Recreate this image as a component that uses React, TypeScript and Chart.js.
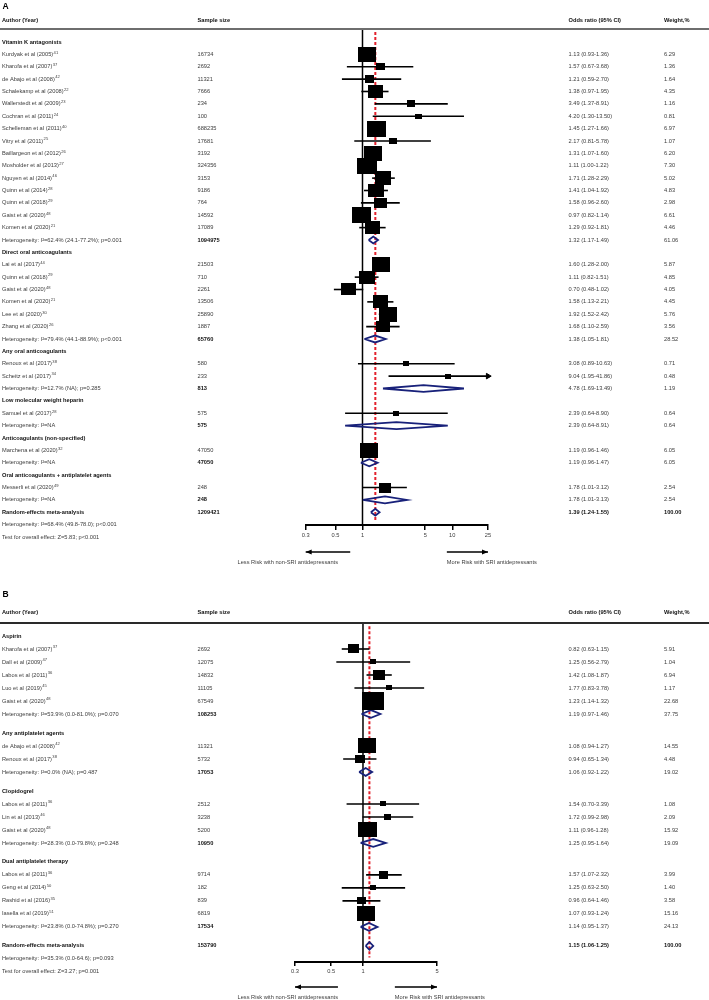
import React, { useEffect, useRef } from "react";
import { Chart, registerables } from "chart.js";
Chart.register(...registerables);

const FONT = '"Liberation Sans", Arial, sans-serif';
const FS = 5.7;
const PAGE_W = 709;

// ---------------- Panel A: anticoagulants ----------------
const A_LABELS = [
  "Vitamin K antagonists",
  "Kurdyak et al (2005)",
  "Kharofa et al (2007)",
  "de Abajo et al (2008)",
  "Schalekamp et al (2008)",
  "Wallerstedt et al (2009)",
  "Cochran et al (2011)",
  "Schelleman et al (2011)",
  "Vitry et al (2011)",
  "Baillargeon et al (2012)",
  "Mosholder et al (2013)",
  "Nguyen et al (2014)",
  "Quinn et al (2014)",
  "Quinn et al (2018)",
  "Gaist et al (2020)",
  "Komen et al (2020)",
  "Heterogeneity: I²=62.4% (24.1-77.2%); p=0.001",
  "Direct oral anticoagulants",
  "Lai et al (2017)",
  "Quinn et al (2018)",
  "Gaist et al (2020)",
  "Komen et al (2020)",
  "Lee et al (2020)",
  "Zhang et al (2020)",
  "Heterogeneity: I²=79.4% (44.1-88.9%); p<0.001",
  "Any oral anticoagulants",
  "Renoux et al (2017)",
  "Scheitz et al (2017)",
  "Heterogeneity: I²=12.7% (NA); p=0.285",
  "Low molecular weight heparin",
  "Samuel et al (2017)",
  "Heterogeneity: I²=NA",
  "Anticoagulants (non-specified)",
  "Marchena et al (2020)",
  "Heterogeneity: I²=NA",
  "Oral anticoagulants + antiplatelet agents",
  "Messerli et al (2020)",
  "Heterogeneity: I²=NA",
  "Random-effects meta-analysis",
  "Heterogeneity: I²=68.4% (49.8-78.0); p<0.001",
  "Test for overall effect: Z=5.83; p<0.001",
];
const A_REFS = ["", "41", "37", "42", "22", "23", "24", "40", "25", "26", "27", "46", "28", "29", "48", "21", "",
  "", "44", "29", "48", "21", "30", "26", "", "", "38", "34", "", "", "28", "", "", "32", "", "", "49", "", "", "", ""];
const A_KIND = ["section", "study", "study", "study", "study", "study", "study", "study", "study", "study", "study",
  "study", "study", "study", "study", "study", "pooled", "section", "study", "study", "study", "study", "study", "study",
  "pooled", "section", "study", "study", "pooled", "section", "study", "pooled", "section", "study", "pooled",
  "section", "study", "pooled", "overall", "note", "note"];
const A_N = [null, 16734, 2692, 11321, 7666, 234, 100, 688235, 17681, 3192, 324356, 3153, 9186, 764, 14592, 17089, 1094975,
  null, 21503, 710, 2261, 13506, 25890, 1887, 65760, null, 580, 233, 813, null, 575, 575, null, 47050, 47050, null, 248, 248,
  1209421, null, null];
const A_OR = [null, 1.13, 1.57, 1.21, 1.38, 3.49, 4.20, 1.45, 2.17, 1.31, 1.11, 1.71, 1.41, 1.58, 0.97, 1.29, 1.32,
  null, 1.60, 1.11, 0.70, 1.58, 1.92, 1.68, 1.38, null, 3.08, 9.04, 4.78, null, 2.39, 2.39, null, 1.19, 1.19, null, 1.78, 1.78,
  1.39, null, null];
const A_LO = [null, 0.93, 0.67, 0.59, 0.97, 1.37, 1.30, 1.27, 0.81, 1.07, 1.00, 1.28, 1.04, 0.96, 0.82, 0.92, 1.17,
  null, 1.28, 0.82, 0.48, 1.13, 1.52, 1.10, 1.05, null, 0.89, 1.95, 1.69, null, 0.64, 0.64, null, 0.96, 0.96, null, 1.01, 1.01,
  1.24, null, null];
const A_HI = [null, 1.36, 3.68, 2.70, 1.95, 8.91, 13.50, 1.66, 5.78, 1.60, 1.22, 2.29, 1.92, 2.60, 1.14, 1.81, 1.49,
  null, 2.00, 1.51, 1.02, 2.21, 2.42, 2.59, 1.81, null, 10.63, 41.86, 13.49, null, 8.90, 8.91, null, 1.46, 1.47, null, 3.12, 3.13,
  1.55, null, null];
const A_W = [null, 6.29, 1.36, 1.64, 4.35, 1.16, 0.81, 6.97, 1.07, 6.20, 7.30, 5.02, 4.83, 2.98, 6.61, 4.46, 61.06,
  null, 5.87, 4.85, 4.05, 4.45, 5.76, 3.56, 28.52, null, 0.71, 0.48, 1.19, null, 0.64, 0.64, null, 6.05, 6.05, null, 2.54, 2.54,
  100.0, null, null];
const A_TICKS = [0.3, 0.5, 1, 5, 10, 25];
const A_TICK_LABELS = ["0.3", "0.5", "1", "5", "10", "25"];

// ---------------- Panel B: antiplatelet agents ----------------
const B_LABELS = [
  "Aspirin",
  "Kharofa et al (2007)",
  "Dall et al (2009)",
  "Labos et al (2011)",
  "Luo et al (2019)",
  "Gaist et al (2020)",
  "Heterogeneity: I²=53.9% (0.0-81.0%); p=0.070",
  "Any antiplatelet agents",
  "de Abajo et al (2008)",
  "Renoux et al (2017)",
  "Heterogeneity: I²=0.0% (NA); p=0.487",
  "Clopidogrel",
  "Labos et al (2011)",
  "Lin et al (2013)",
  "Gaist et al (2020)",
  "Heterogeneity: I²=28.3% (0.0-79.8%); p=0.248",
  "Dual antiplatelet therapy",
  "Labos et al (2011)",
  "Geng et al (2014)",
  "Rashid et al (2016)",
  "Iasella et al (2019)",
  "Heterogeneity: I²=23.8% (0.0-74.8%); p=0.270",
  "Random-effects meta-analysis",
  "Heterogeneity: I²=35.3% (0.0-64.6); p=0.093",
  "Test for overall effect: Z=3.27; p=0.001",
];
const B_REFS = ["", "37", "47", "36", "45", "48", "", "", "42", "38", "", "", "36", "46", "48", "", "", "36", "50", "35", "51",
  "", "", "", ""];
const B_KIND = ["section", "study", "study", "study", "study", "study", "pooled", "section", "study", "study", "pooled",
  "section", "study", "study", "study", "pooled", "section", "study", "study", "study", "study", "pooled", "overall",
  "note", "note"];
const B_N = [null, 2692, 12075, 14832, 11105, 67549, 108253, null, 11321, 5732, 17053, null, 2512, 3238, 5200, 10950,
  null, 9714, 182, 839, 6819, 17534, 153790, null, null];
const B_OR = [null, 0.82, 1.25, 1.42, 1.77, 1.23, 1.19, null, 1.08, 0.94, 1.06, null, 1.54, 1.72, 1.11, 1.25, null,
  1.57, 1.25, 0.96, 1.07, 1.14, 1.15, null, null];
const B_LO = [null, 0.63, 0.56, 1.08, 0.83, 1.14, 0.97, null, 0.94, 0.65, 0.92, null, 0.70, 0.99, 0.96, 0.95, null,
  1.07, 0.63, 0.64, 0.93, 0.95, 1.06, null, null];
const B_HI = [null, 1.15, 2.79, 1.87, 3.78, 1.32, 1.46, null, 1.27, 1.34, 1.22, null, 3.39, 2.98, 1.28, 1.64, null,
  2.32, 2.50, 1.46, 1.24, 1.37, 1.25, null, null];
const B_W = [null, 5.91, 1.04, 6.94, 1.17, 22.68, 37.75, null, 14.55, 4.48, 19.02, null, 1.08, 2.09, 15.92, 19.09, null,
  3.99, 1.40, 3.58, 15.16, 24.13, 100.0, null, null];
const B_TICKS = [0.3, 0.5, 1, 5];
const B_TICK_LABELS = ["0.3", "0.5", "1", "5"];

const HEADERS = ["Author (Year)", "Sample size", "Odds ratio (95% CI)", "Weight,%"];
const LESS_TEXT = "Less Risk with non-SRI antidepressants";
const MORE_TEXT = "More Risk with SRI antidepressants";

// ---------------- layout (styles / geometry, not data) ----------------
const COLS = { name: 2, n: 197.5, or: 568.5, w: 664 };

const LAYOUT_A = {
  letter: "A", height: 575, letterY: 7, headerY: 20, plotTop: 29, plotBottom: 525,
  left: 305.7, right: 488, xMin: 0.233, xMax: 25, yMin: -1.05, yMax: 39.03, gap: 0,
  boxScale: 7.3, boxAspect: 0.83, minBox: 6, diamondHalf: 0.28, ruleColor: "#6e6e6e",
  tickLen: 5, arrowY: 552, arrowTextY: 562, lessEnd: 0.73, moreStart: 8.7, lessTextRight: 338,
};
const LAYOUT_B = {
  letter: "B", height: 425, letterY: 20, headerY: 37, plotTop: 48, plotBottom: 387,
  left: 295, right: 437, xMin: 0.228, xMax: 5, yMin: -1.0, yMax: 25.08, gap: 0.46,
  boxScale: 4.7, boxAspect: 0.82, minBox: 6, diamondHalf: 0.3, ruleColor: "#2a2a2a",
  tickLen: 4, arrowY: 412, arrowTextY: 422, lessEnd: 0.58, moreStart: 2.0, lessTextRight: 338,
};

const PANEL_A = { labels: A_LABELS, refs: A_REFS, kind: A_KIND, n: A_N, or: A_OR, lo: A_LO, hi: A_HI, w: A_W,
  ticks: A_TICKS, tickLabels: A_TICK_LABELS, L: LAYOUT_A };
const PANEL_B = { labels: B_LABELS, refs: B_REFS, kind: B_KIND, n: B_N, or: B_OR, lo: B_LO, hi: B_HI, w: B_W,
  ticks: B_TICKS, tickLabels: B_TICK_LABELS, L: LAYOUT_B };

function rowPositions(kind: string[], gap: number) {
  let g = 0;
  let seen = false;
  return kind.map((k, i) => {
    if (k === "section") {
      if (seen) g += 1;
      seen = true;
    }
    if (k === "overall") g += 1;
    return i + g * gap;
  });
}

function makeBox(w: number, h: number) {
  const c = document.createElement("canvas");
  c.width = Math.max(1, Math.round(w));
  c.height = Math.max(1, Math.round(h));
  const g = c.getContext("2d")!;
  g.fillStyle = "#000";
  g.fillRect(0, 0, c.width, c.height);
  return c;
}

function buildDatasets(P: any, pos: number[]) {
  const L = P.L;
  const ds: any[] = [];
  const base = { showLine: true, pointRadius: 0, clip: false, tension: 0 };
  ds.push({ ...base, data: [{ x: 1, y: L.yMin }, { x: 1, y: L.yMax }], borderColor: "#000", borderWidth: 1.5, order: 6 });
  const oi = P.kind.indexOf("overall");
  ds.push({
    ...base, data: [{ x: P.or[oi], y: L.yMin + 0.25 }, { x: P.or[oi], y: L.yMax - 0.35 }],
    borderColor: "#e3202b", borderWidth: 2, borderDash: [3, 2], order: 5,
  });
  const boxes: any[] = [];
  const boxStyles: any[] = [];
  const heads: any[] = [];
  P.kind.forEach((k: string, i: number) => {
    if (k === "study") {
      const hi = Math.min(P.hi[i], L.xMax);
      ds.push({ ...base, data: [{ x: P.lo[i], y: pos[i] }, { x: hi, y: pos[i] }], borderColor: "#000", borderWidth: 1.6, order: 4 });
      if (P.hi[i] > L.xMax) heads.push({ x: L.xMax, y: pos[i] });
      boxes.push({ x: P.or[i], y: pos[i] });
      const bw = Math.max(L.minBox, L.boxScale * Math.sqrt(P.w[i]));
      boxStyles.push(makeBox(bw, bw * L.boxAspect));
    } else if (k === "pooled" || k === "overall") {
      const h = L.diamondHalf;
      ds.push({
        ...base,
        data: [
          { x: P.lo[i], y: pos[i] }, { x: P.or[i], y: pos[i] - h }, { x: P.hi[i], y: pos[i] },
          { x: P.or[i], y: pos[i] + h }, { x: P.lo[i], y: pos[i] },
        ],
        borderColor: "#18217a", borderWidth: 1.8, borderJoinStyle: "miter", fill: false, order: 3,
      });
    }
  });
  ds.push({ data: boxes, showLine: false, pointStyle: boxStyles, pointRadius: 3, clip: false, order: 1 });
  if (heads.length) {
    ds.push({
      data: heads, showLine: false, pointStyle: "triangle", rotation: 90, pointRadius: 3.2,
      pointBackgroundColor: "#000", pointBorderColor: "#000", pointBorderWidth: 1, clip: false, order: 1,
    });
  }
  return ds;
}

function drawArrow(ctx: CanvasRenderingContext2D, x1: number, x2: number, y: number, headAtLeft: boolean) {
  ctx.save();
  ctx.strokeStyle = "#000";
  ctx.fillStyle = "#000";
  ctx.lineWidth = 1.5;
  ctx.beginPath();
  ctx.moveTo(x1, y);
  ctx.lineTo(x2, y);
  ctx.stroke();
  const hx = headAtLeft ? x1 : x2;
  const d = headAtLeft ? 1 : -1;
  ctx.beginPath();
  ctx.moveTo(hx, y);
  ctx.lineTo(hx + d * 6, y - 2.6);
  ctx.lineTo(hx + d * 6, y + 2.6);
  ctx.closePath();
  ctx.fill();
  ctx.restore();
}

function textPlugin(P: any, pos: number[]) {
  return {
    id: "forestText",
    afterDraw(chart: any) {
      const ctx: CanvasRenderingContext2D = chart.ctx;
      const L = P.L;
      const ys = chart.scales.y;
      const xs = chart.scales.x;
      ctx.save();
      ctx.textBaseline = "middle";
      ctx.textAlign = "left";
      // panel letter
      ctx.fillStyle = "#000";
      ctx.font = `bold 8.5px ${FONT}`;
      ctx.fillText(L.letter, 2.5, L.letterY);
      // headers
      ctx.font = `bold ${FS}px ${FONT}`;
      ctx.fillStyle = "#111";
      ctx.fillText(HEADERS[0], COLS.name, L.headerY);
      ctx.fillText(HEADERS[1], COLS.n, L.headerY);
      ctx.fillText(HEADERS[2], COLS.or, L.headerY);
      ctx.fillText(HEADERS[3], COLS.w, L.headerY);
      // header rule
      ctx.strokeStyle = L.ruleColor;
      ctx.lineWidth = 2;
      ctx.beginPath();
      ctx.moveTo(0, chart.chartArea.top);
      ctx.lineTo(PAGE_W, chart.chartArea.top);
      ctx.stroke();
      // rows
      P.labels.forEach((label: string, i: number) => {
        const k = P.kind[i];
        const py = ys.getPixelForValue(pos[i]);
        const strong = k === "section" || k === "overall";
        ctx.font = `${strong ? "bold " : ""}${FS}px ${FONT}`;
        ctx.fillStyle = strong ? "#111" : "#3c3c3c";
        ctx.fillText(label, COLS.name, py);
        if (P.refs[i]) {
          const w = ctx.measureText(label).width;
          ctx.font = `${FS * 0.72}px ${FONT}`;
          ctx.fillText(P.refs[i], COLS.name + w + 0.4, py - 1.8);
        }
        const bold = k === "pooled" || k === "overall";
        if (P.n[i] != null) {
          ctx.font = `${bold ? "bold " : ""}${FS}px ${FONT}`;
          ctx.fillStyle = bold ? "#111" : "#3c3c3c";
          ctx.fillText(String(P.n[i]), COLS.n, py);
        }
        const ob = k === "overall";
        ctx.font = `${ob ? "bold " : ""}${FS}px ${FONT}`;
        ctx.fillStyle = ob ? "#111" : "#3c3c3c";
        if (P.or[i] != null) {
          const t = `${P.or[i].toFixed(2)} (${P.lo[i].toFixed(2)}-${P.hi[i].toFixed(2)})`;
          ctx.fillText(t, COLS.or, py);
        }
        if (P.w[i] != null) ctx.fillText(P.w[i].toFixed(2), COLS.w, py);
      });
      // direction arrows
      const l1 = xs.getPixelForValue(xs.min);
      const l2 = xs.getPixelForValue(L.lessEnd);
      const r1 = xs.getPixelForValue(L.moreStart);
      const r2 = xs.getPixelForValue(xs.max);
      drawArrow(ctx, l1, l2, L.arrowY, true);
      drawArrow(ctx, r1, r2, L.arrowY, false);
      ctx.font = `${FS}px ${FONT}`;
      ctx.fillStyle = "#3c3c3c";
      ctx.textAlign = "right";
      ctx.fillText(LESS_TEXT, L.lessTextRight, L.arrowTextY);
      ctx.textAlign = "left";
      ctx.fillText(MORE_TEXT, r1, L.arrowTextY);
      ctx.restore();
    },
  };
}

function ForestPanel({ P }: { P: any }) {
  const ref = useRef<HTMLCanvasElement>(null);
  useEffect(() => {
    const L = P.L;
    const pos = rowPositions(P.kind, L.gap);
    const chart = new Chart(ref.current!, {
      type: "scatter",
      data: { datasets: buildDatasets(P, pos) },
      options: {
        responsive: false,
        animation: false,
        events: [],
        layout: { padding: { left: L.left, right: PAGE_W - L.right, top: L.plotTop, bottom: 0 } },
        plugins: { legend: { display: false }, tooltip: { enabled: false } },
        scales: {
          x: {
            type: "logarithmic",
            position: "bottom",
            bounds: "data",
            min: L.xMin,
            max: L.xMax,
            afterBuildTicks: (s: any) => {
              // first labelled tick sits at the start of the axis, as in the source figure
              s.ticks = P.ticks.map((v: number, i: number) => ({ value: i === 0 ? s.min : v }));
            },
            afterFit: (s: any) => {
              s.height = L.height - L.plotBottom;
            },
            grid: { drawOnChartArea: false, drawTicks: true, tickLength: L.tickLen, color: "#000", lineWidth: 1.5 },
            border: { display: true, color: "#000", width: 2 },
            ticks: {
              autoSkip: false,
              maxRotation: 0,
              padding: 2,
              color: "#3c3c3c",
              font: { family: FONT, size: FS },
              callback: (_v: any, i: number) => P.tickLabels[i],
            },
          },
          y: { type: "linear", display: false, reverse: true, min: L.yMin, max: L.yMax },
        },
      } as any,
      plugins: [textPlugin(P, pos)],
    });
    return () => chart.destroy();
  }, [P]);
  return <canvas ref={ref} width={PAGE_W} height={P.L.height} style={{ display: "block" }} />;
}

export default function App() {
  return (
    <div style={{ position: "absolute", left: 0, top: 0, width: PAGE_W, background: "#fff" }}>
      <ForestPanel P={PANEL_A} />
      <ForestPanel P={PANEL_B} />
    </div>
  );
}
